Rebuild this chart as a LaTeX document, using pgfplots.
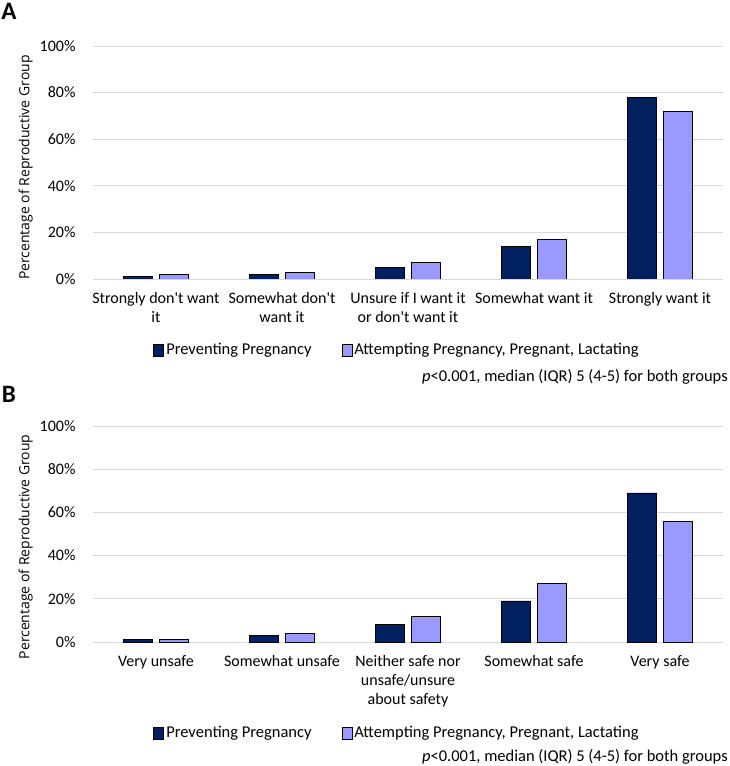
\documentclass[border=0pt]{standalone}
\usepackage{fontspec}
\setmainfont{Carlito}
\newfontfamily\labelfont{Open Sans}
\usepackage{pgfplots}
\pgfplotsset{compat=1.18}
\definecolor{darkbar}{HTML}{002060}
\definecolor{lightbar}{HTML}{9999FF}
\definecolor{gridgray}{HTML}{D9D9D9}

\pgfplotsset{
  panel/.style={
    scale only axis, width=630pt,
    xmin=-0.5, xmax=4.5, ymin=0, ymax=100,
    ytick={0,20,...,100},
    yticklabel={\pgfmathprintnumber{\tick}\%},
    xtick={0,...,4},
    axis line style={draw=none},
    major tick length=0pt,
    ymajorgrids, grid style={gridgray, line width=0.9pt},
    ybar, bar width=29pt,
    tick label style={font=\fontsize{16}{19}\selectfont, text=black},
    xticklabel style={align=center, yshift=-10pt},
    yticklabel style={xshift=-14pt},
    /pgf/number format/assume math mode=true,
    ylabel={Percentage of Reproductive Group},
    legend columns=2,
    legend style={draw=none, fill=none, font=\fontsize{16.5}{19}\selectfont,
      /tikz/every even column/.append style={column sep=28pt}},
    legend image code/.code={\draw[#1] (0pt,-6pt) rectangle (10pt,6pt);},
  }
}

\begin{document}
\begin{tikzpicture}
\useasboundingbox (0pt,0pt) rectangle (729pt,766pt);

\begin{axis}[panel, height=233pt, at={(93pt,487pt)}, anchor=south west,
  ylabel style={at={(axis description cs:-0.107,0.478)}, anchor=center,
    font=\labelfont\fontsize{14}{16}\selectfont},
  legend style={at={(0.5,0)}, anchor=center, xshift=-11pt, yshift=-71pt},
  xticklabels={Strongly don\textquotesingle t want\\it, Somewhat don\textquotesingle t\\want it,
    Unsure if I want it\\or don\textquotesingle t want it, Somewhat want it, Strongly want it}]
\addplot[fill=darkbar, draw=black, line width=0.8pt, bar shift=-18pt]
  coordinates {(0,1) (1,2) (2,5) (3,14) (4,78)};
\addlegendentry{Preventing Pregnancy}
\addplot[fill=lightbar, draw=black, line width=0.8pt, bar shift=18pt]
  coordinates {(0,2) (1,3) (2,7) (3,17) (4,72)};
\addlegendentry{Attempting Pregnancy, Pregnant, Lactating}
\end{axis}

\begin{axis}[panel, height=216pt, at={(93pt,124pt)}, anchor=south west,
  ylabel style={at={(axis description cs:-0.107,0.44)}, anchor=center,
    font=\labelfont\fontsize{14}{16}\selectfont},
  legend style={at={(0.5,0)}, anchor=center, xshift=-11pt, yshift=-91pt},
  xticklabels={Very unsafe, Somewhat unsafe,
    Neither safe nor\\unsafe/unsure\\about safety, Somewhat safe, Very safe}]
\addplot[fill=darkbar, draw=black, line width=0.8pt, bar shift=-18pt]
  coordinates {(0,1) (1,3) (2,8) (3,19) (4,69)};
\addlegendentry{Preventing Pregnancy}
\addplot[fill=lightbar, draw=black, line width=0.8pt, bar shift=18pt]
  coordinates {(0,1) (1,4) (2,12) (3,27) (4,56)};
\addlegendentry{Attempting Pregnancy, Pregnant, Lactating}
\end{axis}

\node[font=\bfseries\fontsize{25}{28}\selectfont] at (9pt,755pt) {A};
\node[font=\bfseries\fontsize{25}{28}\selectfont] at (9pt,372pt) {B};
\node[anchor=east, font=\fontsize{16.5}{19}\selectfont, inner sep=1pt] at (729pt,389pt)
  {\textit{p}<0.001, median (IQR) 5 (4-5) for both groups};
\node[anchor=east, font=\fontsize{16.5}{19}\selectfont, inner sep=1pt] at (729pt,9pt)
  {\textit{p}<0.001, median (IQR) 5 (4-5) for both groups};
\end{tikzpicture}
\end{document}
